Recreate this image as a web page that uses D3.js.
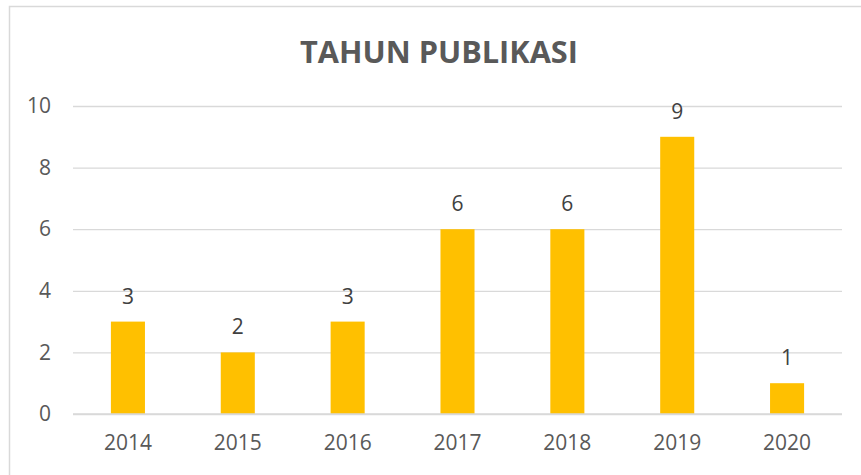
<!DOCTYPE html>
<html>
<head>
<meta charset="utf-8">
<script src="https://cdn.jsdelivr.net/npm/d3@7"></script>
<style>
  html, body { margin: 0; padding: 0; background: #fff; }
  svg { display: block; }
</style>
</head>
<body>
<svg id="chart" width="861" height="475"></svg>
<script>
const categories = ["2014", "2015", "2016", "2017", "2018", "2019", "2020"];
const values = [3, 2, 3, 6, 6, 9, 1];
const yTicks = [0, 2, 4, 6, 8, 10];
const title = "TAHUN PUBLIKASI";

const svg = d3.select("#chart");
const W = 861, H = 475;
const margin = { left: 73, right: 19, top: 106, bottom: 61 };
const plotW = W - margin.left - margin.right;
const plotH = H - margin.top - margin.bottom;

svg.append("rect")
  .attr("x", 9.5).attr("y", 6.5)
  .attr("width", W + 20).attr("height", H + 20)
  .attr("fill", "none").attr("stroke", "#d9d9d9").attr("stroke-width", 1.5);

const g = svg.append("g").attr("transform", `translate(${margin.left},${margin.top})`);

const x = d3.scaleBand().domain(categories).range([0, plotW]).paddingInner(0.69).paddingOuter(0.345);
const y = d3.scaleLinear().domain([0, 10]).range([plotH, 0]);

const font = "'Open Sans', 'Liberation Sans', sans-serif";

const yAxis = d3.axisLeft(y).tickValues(yTicks).tickSize(-plotW).tickPadding(22).tickFormat(d3.format("d"));
const ya = g.append("g").call(yAxis);
ya.select(".domain").remove();
ya.selectAll(".tick line").attr("stroke", "#d9d9d9").attr("stroke-width", 1.3);
ya.selectAll(".tick text").attr("fill", "#595959").style("font-family", font).style("font-size", "21px");

g.selectAll("rect.bar").data(values).join("rect")
  .attr("class", "bar")
  .attr("x", (d, i) => x(categories[i]))
  .attr("width", x.bandwidth())
  .attr("y", d => y(d))
  .attr("height", d => y(0) - y(d))
  .attr("fill", "#FFC000");

g.append("line").attr("x1", 0).attr("x2", plotW).attr("y1", y(0)).attr("y2", y(0))
  .attr("stroke", "#d9d9d9").attr("stroke-width", 1.5);

const xAxis = d3.axisBottom(x).tickSize(0).tickPadding(21);
const xa = g.append("g").attr("transform", `translate(0,${plotH})`).call(xAxis);
xa.select(".domain").remove();
xa.selectAll(".tick text").attr("fill", "#595959").style("font-family", font).style("font-size", "21px");

g.selectAll("text.val").data(values).join("text")
  .attr("class", "val")
  .attr("x", (d, i) => x(categories[i]) + x.bandwidth() / 2)
  .attr("y", d => y(d) - 18)
  .attr("text-anchor", "middle")
  .attr("fill", "#404040")
  .style("font-family", font).style("font-size", "21px")
  .text(d => d);

const t = svg.append("text")
  .attr("x", 439).attr("y", 63)
  .attr("text-anchor", "middle")
  .attr("fill", "#595959")
  .style("font-family", font).style("font-weight", "bold").style("font-size", "32px")
  .text(title);
const tw = t.node().getComputedTextLength();
t.style("font-size", (32 * 278 / tw) + "px");
</script>
</body>
</html>
